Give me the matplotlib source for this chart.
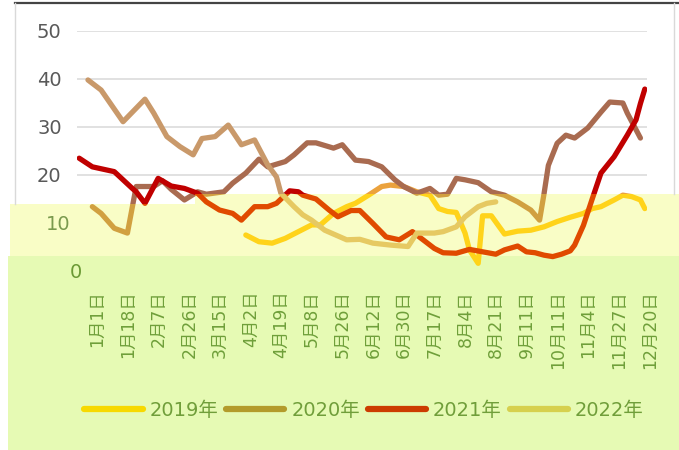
import numpy as np
import matplotlib
matplotlib.use("Agg")
import matplotlib.pyplot as plt
from matplotlib.patches import Polygon
from matplotlib.lines import Line2D
from matplotlib.transforms import ScaledTranslation

plt.rcParams['font.family'] = ['DejaVu Sans', 'Noto Sans CJK SC']

# category axis: 130 date slots, a label every 7th slot
n_cat = 130
tick_every = 7
tick_labels = ["1月1日", "1月18日", "2月7日", "2月26日", "3月15日", "4月2日", "4月19日",
               "5月8日", "5月26日", "6月12日", "6月30日", "7月17日", "8月4日", "8月21日",
               "9月11日", "10月11日", "11月4日", "11月27日", "12月20日"]
years = ["2019年", "2020年", "2021年", "2022年"]

# series: slot index and value (gaps are bridged, as in the source chart)
idx_2019 = [38, 41, 44, 47, 50, 53, 55, 58, 61, 63, 66, 69, 71, 74, 77, 80, 82, 84, 86,
            88, 89, 91, 92, 94, 97, 100, 103, 106, 109, 112, 115, 117, 119, 122, 124,
            126, 128, 129]
val_2019 = [7.5, 6.1, 5.8, 6.8, 8.2, 9.6, 9.6, 12.0, 13.4, 14.1, 15.8, 17.6, 17.9, 17.6,
            16.5, 15.8, 13.0, 12.4, 12.2, 7.9, 4.4, 1.6, 11.5, 11.5, 7.7, 8.3, 8.5, 9.2,
            10.3, 11.2, 12.0, 13.0, 13.4, 14.8, 15.8, 15.5, 14.8, 13.0]

idx_2020 = [3, 5, 8, 11, 13, 17, 19, 21, 24, 27, 29, 33, 35, 38, 41, 43, 47, 49, 52, 54,
            58, 60, 63, 66, 69, 72, 74, 77, 80, 82, 84, 86, 88, 91, 94, 97, 100, 103, 105,
            106, 107, 109, 111, 113, 116, 119, 121, 124, 125, 128]
val_2020 = [13.4, 12.0, 8.9, 7.9, 17.6, 17.6, 18.8, 17.0, 14.8, 16.5, 16.0, 16.5, 18.3,
            20.4, 23.3, 21.7, 22.8, 24.2, 26.7, 26.7, 25.6, 26.3, 23.1, 22.8, 21.7, 19.0,
            17.6, 16.2, 17.2, 15.8, 16.0, 19.3, 19.0, 18.4, 16.5, 15.8, 14.4, 12.7, 10.6,
            16.0, 22.0, 26.6, 28.3, 27.7, 29.8, 33.1, 35.2, 35.0, 32.9, 27.7]

idx_2021 = [0, 3, 8, 12, 13, 15, 18, 21, 24, 27, 29, 32, 35, 37, 40, 43, 45, 48, 50, 51,
            54, 57, 59, 62, 64, 67, 70, 73, 76, 78, 81, 83, 86, 89, 92, 95, 97, 100, 102,
            104, 106, 108, 110, 112, 113, 115, 117, 119, 122, 125, 127, 128, 129]
val_2021 = [23.5, 21.7, 20.7, 17.3, 16.5, 14.1, 19.3, 17.7, 17.2, 16.2, 14.4, 12.7, 12.0,
            10.6, 13.4, 13.4, 14.1, 16.7, 16.5, 15.8, 15.0, 12.7, 11.3, 12.6, 12.6, 9.9,
            7.1, 6.5, 8.2, 6.8, 4.7, 3.8, 3.7, 4.5, 4.0, 3.5, 4.4, 5.2, 4.0, 3.8, 3.3, 3.0,
            3.5, 4.2, 5.4, 9.5, 15.0, 20.4, 23.8, 28.3, 31.5, 34.9, 37.9]

idx_2022 = [2, 5, 10, 15, 17, 20, 23, 26, 28, 31, 34, 37, 40, 43, 45, 46, 49, 51, 53, 56,
            61, 64, 67, 71, 75, 77, 81, 83, 86, 88, 91, 93, 95]
val_2022 = [39.8, 37.7, 31.1, 35.8, 32.9, 28.0, 25.9, 24.2, 27.6, 28.0, 30.4, 26.3, 27.3,
            22.1, 19.6, 16.2, 13.4, 11.7, 10.6, 8.5, 6.5, 6.6, 5.8, 5.4, 5.1, 7.9, 7.9,
            8.2, 9.2, 11.3, 13.4, 14.1, 14.4]

series = [(idx_2019, val_2019), (idx_2020, val_2020), (idx_2021, val_2021), (idx_2022, val_2022)]

# colours: upper part of the picture / tinted lower band / legend
top_colors = ['#EBA23D', '#A96B50', '#C00000', '#C9996A']
band_colors = ['#FFD31A', '#D1A040', '#E04A00', '#E6C962']
legend_colors = ['#F7D900', '#B39B2B', '#CC3C00', '#D6D04E']

W, H = 679, 450


def fig_pts(pts):
    return [(x / W, 1 - y / H) for x, y in pts]


fig = plt.figure(figsize=(W / 100, H / 100), dpi=100, facecolor='white')

# tinted regions of the picture
top_area = Polygon(fig_pts([(0, 0), (W, 0), (W, 194), (195, 194), (195, 204), (0, 204)]),
                   transform=fig.transFigure)
low_area = Polygon(fig_pts([(0, 204), (195, 204), (195, 194), (W, 194), (W, H), (0, H)]),
                   transform=fig.transFigure)
fig.add_artist(Polygon(fig_pts([(10, 204), (195, 204), (195, 194), (W, 194), (W, 256), (10, 256)]),
                       transform=fig.transFigure, facecolor='#F9FDC6', edgecolor='none', zorder=-2))
fig.add_artist(Polygon(fig_pts([(8, 256), (W, 256), (W, H), (8, H)]),
                       transform=fig.transFigure, facecolor='#E6FAB4', edgecolor='none', zorder=-2))

# chart frame
fig.add_artist(Line2D([15 / W, 1], [1 - 3 / H] * 2, transform=fig.transFigure, color='#444444', lw=1.6))
fig.add_artist(Line2D([15 / W] * 2, [1 - 3 / H, 1 - 204 / H], transform=fig.transFigure, color='#D9D9D9', lw=1))
fig.add_artist(Line2D([674 / W] * 2, [1 - 3 / H, 1 - 194 / H], transform=fig.transFigure, color='#D9D9D9', lw=1))

ax = fig.add_axes([77 / W, 1 - 271 / H, 570 / W, 240 / H])
ax.set_facecolor('none')
ax.set_xlim(-0.5, n_cat - 0.5)
ax.set_ylim(0, 50)
yticks = np.arange(0, 51, 10)
ax.set_yticks(yticks)
ax.set_xticks(np.arange(0, n_cat, tick_every)[:len(tick_labels)])
ax.set_xticklabels(tick_labels, rotation=90, fontsize=12.5, color='#6F9F3A')
ax.set_yticklabels([str(v) for v in yticks], fontsize=14)
ax.tick_params(length=0)
ax.tick_params(axis='y', pad=11)
ax.tick_params(axis='x', pad=14)
for s in ax.spines.values():
    s.set_visible(False)

for v in yticks[1:]:
    gl = ax.axhline(v, color='#D9D9D9', lw=1.1, zorder=0.5)
    gl.set_clip_path(top_area)

for (xi, yv), c_top, c_band in zip(series, top_colors, band_colors):
    for col, area in ((c_top, top_area), (c_band, low_area)):
        ln, = ax.plot(xi, yv, color=col, lw=3.8, solid_joinstyle='round', solid_capstyle='round')
        ln.set_clip_path(area)

# tick label colours / offsets follow the tinted bands
ylab_colors = ['#6B9A35', '#7A9A4E', '#595959', '#595959', '#595959', '#595959']
ylab_shift = [20, 9, 0, 0, 0, 0]
for lab, c, dx in zip(ax.get_yticklabels(), ylab_colors, ylab_shift):
    lab.set_color(c)
    lab.set_transform(lab.get_transform() + ScaledTranslation(dx / 100, 0, fig.dpi_scale_trans))
for lab in ax.get_xticklabels():
    lab.set_transform(lab.get_transform() + ScaledTranslation(18 / 100, 0, fig.dpi_scale_trans))

handles = [Line2D([], [], color=c, lw=4.5, solid_capstyle='round') for c in legend_colors]
fig.legend(handles, years, loc='center', bbox_to_anchor=(364 / W, 1 - 410 / H), ncol=4,
           frameon=False, fontsize=14, handlelength=3.0, handletextpad=0.35,
           columnspacing=0.4, labelcolor='#709E3A')

fig.savefig('out.png', dpi=100, facecolor=fig.get_facecolor())
